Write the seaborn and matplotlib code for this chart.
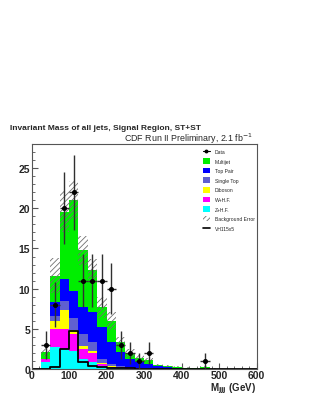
import numpy as np
import pandas as pd
import matplotlib
matplotlib.use("Agg")
import matplotlib.pyplot as plt
from matplotlib.patches import Patch
from matplotlib.lines import Line2D
import seaborn as sns

sns.set_style("white")
plt.rcParams['font.family'] = ['Liberation Sans', 'DejaVu Sans']
plt.rcParams['hatch.color'] = '#707070'
plt.rcParams['hatch.linewidth'] = 0.6

# ---- data (bins of 25 GeV from 0 to 600) ----
bin_edges = list(range(0, 625, 25))
z_hf      = [0, 0.9, 2.7, 2.5, 2.3, 1.25, 0.83, 0.33, 0.15, 0.1, 0.05, 0.03, 0.02, 0, 0, 0, 0, 0, 0, 0, 0, 0, 0, 0]
w_hf      = [0, 0.3, 2.3, 2.5, 2.05, 1.25, 1.17, 0.27, 0.15, 0.1, 0.1, 0.05, 0.03, 0.02, 0, 0, 0, 0, 0, 0, 0, 0, 0, 0]
diboson   = [0, 0.0, 1.0, 2.4, 0.45, 0.4, 0.3, 0.2, 0.1, 0.05, 0.03, 0.02, 0, 0, 0, 0, 0, 0, 0, 0, 0, 0, 0, 0]
single_top= [0, 0.0, 0.6, 1.1, 1.6, 1.5, 1.0, 0.5, 0.25, 0.15, 0.1, 0.05, 0.05, 0.02, 0, 0, 0, 0, 0, 0, 0, 0, 0, 0]
top_pair  = [0, 0.0, 1.7, 2.7, 3.3, 3.3, 3.8, 3.9, 2.75, 1.7, 1.0, 0.7, 0.5, 0.33, 0.25, 0.1, 0.05, 0.03, 0.02, 0, 0, 0, 0, 0]
multijet  = [0, 0.9, 3.3, 8.4, 11.3, 7.1, 5.2, 2.5, 2.6, 1.2, 0.75, 0.55, 0.5, 0.15, 0.15, 0.2, 0.1, 0.05, 0.2, 0.05, 0, 0, 0, 0]
bkg_err   = [0, 0.5, 2.2, 2.6, 2.4, 1.8, 1.45, 1.3, 1.1, 0.7, 0.5, 0.35, 0.3, 0.15, 0.1, 0.1, 0.05, 0.05, 0.1, 0.05, 0, 0, 0, 0]
signal    = [0, 0.0, 0.2, 2.5, 4.75, 0.85, 0.4, 0.25, 0.15, 0.1, 0.1, 0.05, 0.05, 0, 0, 0, 0, 0, 0, 0, 0, 0, 0, 0]
data      = [0, 3, 8, 20, 22, 11, 11, 11, 10, 3, 2, 1, 2, 0, 0, 0, 0, 0, 1, 0, 0, 0, 0, 0]

processes = ["Multijet", "Top Pair", "Single Top", "Diboson", "W+H.F.", "Z+H.F."]
colors = ["#00ee00", "#0000ff", "#6060d0", "#ffff00", "#ff00ff", "#00ffff"]
series = [multijet, top_pair, single_top, diboson, w_hf, z_hf]

edges = np.array(bin_edges, dtype=float)
centers = (edges[:-1] + edges[1:]) / 2
width = edges[1] - edges[0]

rows = []
for name, vals in zip(processes, series):
    for c, v in zip(centers, vals):
        rows.append({"m": c, "w": v, "proc": name})
df = pd.DataFrame(rows)

fig = plt.figure(figsize=(3.11, 4.02), dpi=100)
ax = fig.add_axes([31.5/311, 1-370/402, 225/311, 225/402])

sns.histplot(data=df, x="m", weights="w", hue="proc", hue_order=processes,
             palette=dict(zip(processes, colors)), multiple="stack",
             bins=bin_edges, element="step", fill=True, alpha=1, linewidth=0,
             legend=False, ax=ax)

total = np.sum(np.array(series), axis=0)
err = np.array(bkg_err)
mask = total > 0
ax.bar(centers[mask], 2*err[mask], bottom=(total-err)[mask], width=width,
       fill=False, hatch='//////', linewidth=0, edgecolor='#707070')

sig_df = pd.DataFrame({"m": centers, "w": signal})
sns.histplot(data=sig_df, x="m", weights="w", bins=bin_edges, element="step", fill=False,
             color="black", linewidth=1.3, ax=ax)

d = np.array(data, dtype=float)
dm = d > 0
ax.errorbar(centers[dm], d[dm], yerr=np.sqrt(d[dm]), xerr=width/2, fmt='o',
            color='black', ecolor='#303030', ms=2.6, elinewidth=1.0, capsize=0, zorder=5)

ax.set_xlim(0, 600)
ax.set_ylim(0, 28)
ax.set_xlabel("")
ax.set_ylabel("")
ax.xaxis.set_major_locator(plt.MultipleLocator(100))
ax.xaxis.set_minor_locator(plt.MultipleLocator(20))
ax.yaxis.set_major_locator(plt.MultipleLocator(5))
ax.yaxis.set_minor_locator(plt.MultipleLocator(1))
ax.tick_params(which='major', direction='in', length=4.3, width=0.8, color='#555555',
               labelsize=7.5, pad=1.0, top=False, right=False, bottom=True, left=True)
ax.tick_params(which='minor', direction='in', length=2.2, width=0.6, color='#555555',
               top=False, right=False, bottom=True, left=True)
for lab in ax.get_xticklabels() + ax.get_yticklabels():
    lab.set_fontweight('bold')
for s in ax.spines.values():
    s.set_visible(True)
    s.set_color('#555555')
    s.set_linewidth(0.8)

fig.text(10/311, 1-130/402, "Invariant Mass of all jets, Signal Region, ST+ST",
         fontsize=6.0, fontweight='bold', ha='left', va='baseline')
fig.text(253/311, 1-141.5/402, r"CDF Run II Preliminary, 2.1 fb$^{-1}$",
         fontsize=6.4, ha='right', va='baseline')
fig.text(256/311, 1-391/402, r"M$_{\mathbf{jjj}}$ (GeV)", fontsize=7.0,
         fontweight='bold', ha='right', va='baseline')

handles = [Line2D([0], [0], color='black', marker='o', ms=1.8, lw=0.8)]
labels = ["Data"]
for name, col in zip(processes, colors):
    handles.append(Patch(facecolor=col, edgecolor='none'))
    labels.append(name)
handles.append(Patch(facecolor='white', edgecolor='#707070', hatch='//////', linewidth=0))
labels.append("Background Error")
handles.append(Line2D([0], [0], color='black', lw=1.2))
labels.append("VH115x5")
fig.legend(handles, labels, loc='upper left', bbox_to_anchor=(202.5/311, 1-149.5/402),
           frameon=False, fontsize=3.6, handlelength=1.46, handleheight=1.34,
           labelspacing=0.81, handletextpad=1.0, borderpad=0, borderaxespad=0)

fig.savefig("out.png", dpi=100)
